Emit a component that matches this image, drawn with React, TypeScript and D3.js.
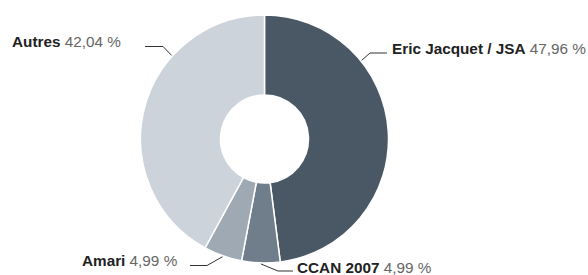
import React from "react";
import * as d3 from "d3";

const labels = ["Eric Jacquet / JSA", "CCAN 2007", "Amari", "Autres"];
const shares = [47.96, 4.99, 4.99, 42.04];
const valueLabels = ["47,96 %", "4,99 %", "4,99 %", "42,04 %"];
const colors = ["#4a5865", "#6f7e8a", "#9ea9b3", "#ccd3da"];

// leader layout: start angle on the rim (deg, null = slice middle), elbow, line end, text position
const leaders = [
  { angle: 51, elbow: [370, 53], end: [387, 53], text: [392, 53.5] },
  { angle: null, elbow: [278, 271], end: [293, 271], text: [297, 272.5] },
  { angle: null, elbow: [207, 265.5], end: [190, 265.5], text: [82, 266] },
  { angle: 312, elbow: [163, 46.5], end: [145, 46.5], text: [12, 47] }
];

const width = 588;
const height = 275;
const cx = 264.5;
const cy = 139;
const outer = 124;
const inner = 44;

export default function App() {
  const pie = d3
    .pie<number>()
    .sort(null)
    .value(d => d);
  const arcs = pie(shares);
  const arc = d3
    .arc<d3.PieArcDatum<number>>()
    .innerRadius(inner)
    .outerRadius(outer);

  return (
    <svg
      width={width}
      height={height}
      style={{ position: "absolute", left: 0, top: 0, background: "#fff" }}
      fontFamily="'Liberation Sans', Arial, sans-serif"
      fontSize={15.3}
    >
      <g transform={`translate(${cx},${cy})`}>
        {arcs.map((a, i) => (
          <path
            key={labels[i]}
            d={arc(a) || ""}
            fill={colors[i]}
            stroke="#fff"
            strokeWidth={1.5}
          />
        ))}
      </g>
      {arcs.map((a, i) => {
        const l = leaders[i];
        const ang =
          l.angle === null ? (a.startAngle + a.endAngle) / 2 : (l.angle * Math.PI) / 180;
        const [sx, sy] = d3.pointRadial(ang, outer + 1);
        const pts: [number, number][] = [
          [cx + sx, cy + sy],
          [l.elbow[0], l.elbow[1]],
          [l.end[0], l.end[1]]
        ];
        return (
          <g key={labels[i]}>
            <path
              d={d3.line()(pts) || ""}
              fill="none"
              stroke="#333"
              strokeWidth={1}
            />
            <text x={l.text[0]} y={l.text[1]}>
              <tspan fontWeight="bold" fill="#222">
                {labels[i]}
              </tspan>
              <tspan fill="#666">{" " + valueLabels[i]}</tspan>
            </text>
          </g>
        );
      })}
    </svg>
  );
}
